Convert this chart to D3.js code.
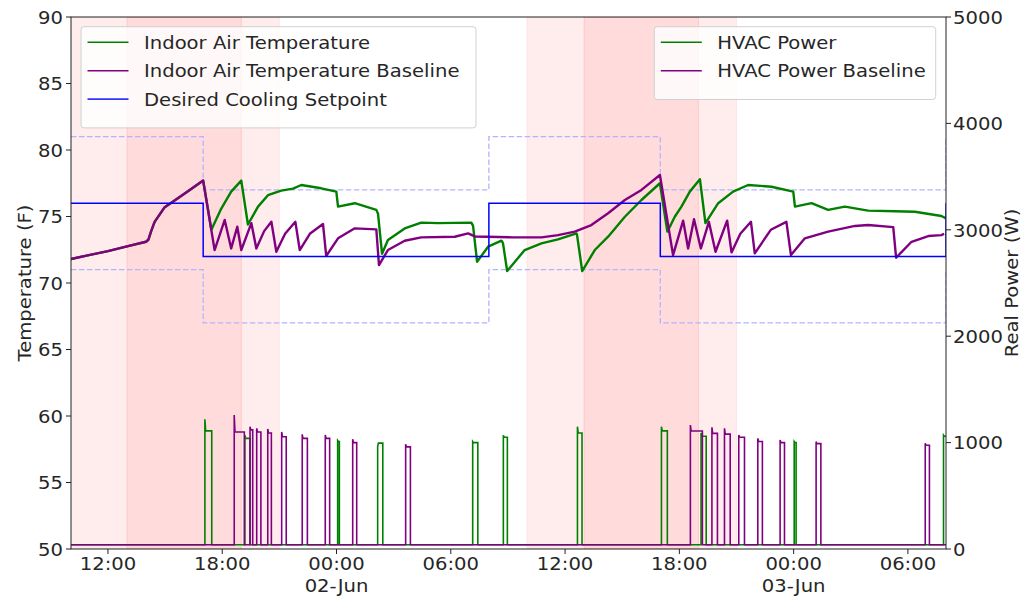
<!DOCTYPE html>
<html><head><meta charset="utf-8">
<script src="https://cdn.jsdelivr.net/npm/d3@7"></script>
<style>
body{margin:0;background:#fff}
text{font-family:"DejaVu Sans",sans-serif;fill:#262626}
</style>
</head><body><svg id="c" width="1022" height="596"></svg>
<script>
// time in hours since 2019-06-01 00:00
const startHour = 10.06, endHour = 56.0;
const xTickHours = [12, 18, 24, 30, 36, 42, 48, 54];
const xTickLabels = ["12:00","18:00","00:00","06:00","12:00","18:00","00:00","06:00"];
const xDayLabels = {24:"02-Jun", 48:"03-Jun"};
const tempTicks = [50,55,60,65,70,75,80,85,90];
const powerTicks = [0,1000,2000,3000,4000,5000];

const lightSpans = [[10,21],[34,45]];
const darkSpans = [[13,19],[37,43]];

const setpointHours = [10.06, 17, 32, 41, 56];
const setpointVals = [76, 72, 76, 72, 76];
const upperVals = [81, 77, 81, 77, 81];
const lowerVals = [71, 67, 71, 67, 71];

const indoorTemp = [
[10.06,71.8],[11.0,72.1],[12.0,72.4],[13.0,72.75],[14.0,73.1],[14.12,73.25],[14.27,73.9],[14.45,74.6],[14.98,75.7],[15.5,76.2],[16.2,76.9],[17.0,77.7],
[17.43,74.0],[17.95,75.6],[18.47,76.87],[19.0,77.7],
[19.35,74.4],[19.88,75.74],[20.4,76.6],[21.1,76.95],[21.72,77.1],[22.15,77.37],[23.2,77.12],[23.99,76.87],
[24.08,75.74],[24.96,76.0],[26.09,75.5],
[26.18,75.2],[26.39,72.2],[26.7,73.23],[27.58,74.1],[28.45,74.54],[29.33,74.5],[31.08,74.54],
[31.17,74.3],[31.38,71.6],[31.96,72.73],[32.66,73.18],
[32.74,73.0],[32.96,70.9],[33.88,72.48],[34.76,72.98],[35.63,73.28],[36.6,73.73],
[36.63,73.6],[36.9,70.9],[37.56,72.48],[38.26,73.48],[39.14,74.98],[40.01,76.24],[40.98,77.5],
[41.37,73.86],[41.76,74.98],[42.11,75.74],[42.55,76.87],[43.08,77.8],
[43.37,74.5],[44.04,76.0],[44.82,76.87],[45.61,77.37],[46.84,77.24],[47.98,76.87],
[48.07,75.74],[48.94,76.0],[49.81,75.5],[50.69,75.74],[51.91,75.44],[53.32,75.4],[54.37,75.36],[55.76,75.04],[56.0,74.86]
];
const baselineTemp = [
[10.06,71.8],[11.0,72.1],[12.0,72.4],[13.0,72.75],[14.0,73.1],[14.12,73.25],[14.27,73.9],[14.45,74.6],[14.98,75.7],[15.5,76.2],[16.2,76.9],[17.0,77.7],
[17.6,72.48],[18.13,74.74],[18.47,72.6],[18.79,74.23],[19.0,72.48],[19.53,74.5],[19.79,72.6],[20.2,73.9],[20.58,74.6],[20.84,72.35],[21.3,73.7],[21.84,74.6],[22.07,72.48],[22.6,73.7],[23.29,74.44],[23.46,72.03],
[24.08,73.36],[24.96,74.11],[26.09,74.03],[26.23,71.35],[26.7,72.48],[27.58,73.18],[28.45,73.43],[30.21,73.48],[30.91,73.73],[31.26,73.5],[33.27,73.43],[34.76,73.43],[35.63,73.6],[36.51,73.86],[37.38,74.36],[38.26,75.24],[39.14,76.24],[40.01,77.0],[40.98,78.12],
[41.67,72.1],[42.2,74.69],[42.46,72.6],[42.77,74.79],[43.13,72.6],[43.55,74.6],[43.9,72.35],[44.51,74.69],[44.74,72.3],[45.2,73.7],[45.76,74.6],[45.96,72.23],[46.8,74.0],[47.62,74.6],[47.86,72.1],
[48.59,73.36],[49.81,73.86],[51.22,74.29],[51.91,74.36],[53.23,74.2],[53.38,71.9],[54.19,73.1],[55.07,73.53],[55.76,73.6],[55.9,73.7]
];

// power pulses: [startHour, endHour, peakW, plateauW]
const powerIdle = 40;
const hvacPulses = [[17.09,17.45,1220,1110],[19.19,19.46,1070,1040],[24.06,24.15,1020,1010],[26.16,26.43,965,995],[31.15,31.42,1010,1000],[32.76,32.97,1070,1050],[36.65,36.89,1150,1090],[41.06,41.37,1150,1110],[43.14,43.41,1090,1060],[48.03,48.13,1010,1000],[55.87,56.0,1070,1060]];
const baselinePulses = [[18.63,19.16,1260,1100],[19.46,19.60,1150,1120],[19.81,20.03,1134,1100],[20.39,20.58,1128,1090],[21.12,21.36,1100,1055],[22.2,22.47,1078,1040],[23.41,23.64,1072,1040],[24.85,25.06,1031,1000],[27.63,27.88,984,960],[42.58,43.21,1165,1109],[43.71,44.0,1144,1087],[44.37,44.67,1134,1080],[45.12,45.42,1071,1050],[46.12,46.36,1040,1010],[47.29,47.52,1024,1000],[49.18,49.43,1009,990],[54.91,55.13,993,975]];

const W = 1022, H = 596;
const L = 71, R = 946, T = 17, B = 549;
const base = new Date(2019,5,1,0,0,0);
const toDate = h => new Date(base.getTime() + h*3600e3);

const x = d3.scaleTime().domain([toDate(startHour), toDate(endHour)]).range([L, R]);
const yT = d3.scaleLinear().domain([50,90]).range([B, T]);
const yP = d3.scaleLinear().domain([0,5000]).range([B, T]);

const svg = d3.select("#c");
svg.append("defs").append("clipPath").attr("id","clip")
  .append("rect").attr("x",L).attr("y",T).attr("width",R-L).attr("height",B-T);
const plot = svg.append("g").attr("clip-path","url(#clip)");

lightSpans.forEach(s => plot.append("rect")
  .attr("x", x(toDate(s[0]))).attr("y", T).attr("width", x(toDate(s[1]))-x(toDate(s[0]))).attr("height", B-T)
  .attr("fill","rgba(255,0,0,0.07)").attr("stroke","rgba(255,0,0,0.07)"));
darkSpans.forEach(s => plot.append("rect")
  .attr("x", x(toDate(s[0]))).attr("y", T).attr("width", x(toDate(s[1]))-x(toDate(s[0]))).attr("height", B-T)
  .attr("fill","rgba(255,0,0,0.075)").attr("stroke","rgba(255,0,0,0.12)"));

const lineT = d3.line().x(d => x(toDate(d[0]))).y(d => yT(d[1]));
const stepT = d3.line().x(d => x(toDate(d[0]))).y(d => yT(d[1])).curve(d3.curveStepAfter);

const zip = vals => setpointHours.map((h,i) => [h, vals[i]]);
[upperVals, lowerVals].forEach(v => plot.append("path").datum(zip(v))
  .attr("d", stepT).attr("fill","none").attr("stroke","#b3b3ff").attr("stroke-width",1.3)
  .attr("stroke-dasharray","5.5,2.5"));

plot.append("path").datum(indoorTemp).attr("d", lineT).attr("fill","none")
  .attr("stroke","#008000").attr("stroke-width",2.4).attr("stroke-linejoin","round");
plot.append("path").datum(baselineTemp).attr("d", lineT).attr("fill","none")
  .attr("stroke","#800080").attr("stroke-width",2.4).attr("stroke-linejoin","round");
plot.append("path").datum(zip(setpointVals)).attr("d", stepT).attr("fill","none")
  .attr("stroke","#0000ff").attr("stroke-width",1.5);

function pulsePoints(pulses) {
  const pts = [[startHour, powerIdle]];
  pulses.forEach(p => {
    pts.push([p[0], powerIdle], [p[0], p[2]], [p[0]+0.04, p[3]], [p[1], p[3]]);
    if (p[1] < endHour) pts.push([p[1], powerIdle]);
  });
  if (pts[pts.length-1][0] < endHour) pts.push([endHour, powerIdle]);
  return pts;
}
const lineP = d3.line().x(d => x(toDate(d[0]))).y(d => yP(d[1]));
plot.append("path").datum(pulsePoints(hvacPulses)).attr("d", lineP).attr("fill","none")
  .attr("stroke","#008000").attr("stroke-width",1.6);
plot.append("path").datum(pulsePoints(baselinePulses)).attr("d", lineP).attr("fill","none")
  .attr("stroke","#800080").attr("stroke-width",1.6);

// frame
svg.append("rect").attr("x",L).attr("y",T).attr("width",R-L).attr("height",B-T)
  .attr("fill","none").attr("stroke","#222").attr("stroke-width",1);

const FS = 18.5, SX = 1.06;
function txt(g, xx, yy, s, anchor, rot) {
  return g.append("text")
    .attr("transform", `translate(${xx},${yy})` + (rot ? ` rotate(${rot})` : "") + ` scale(${SX},1)`)
    .attr("text-anchor", anchor).attr("font-size", FS).text(s);
}
// axes
tempTicks.forEach(v => {
  svg.append("line").attr("x1",L-5).attr("x2",L).attr("y1",yT(v)).attr("y2",yT(v)).attr("stroke","#222");
  txt(svg, L-8, yT(v)+6.8, v, "end");
});
powerTicks.forEach(v => {
  svg.append("line").attr("x1",R).attr("x2",R+5).attr("y1",yP(v)).attr("y2",yP(v)).attr("stroke","#222");
  txt(svg, R+7, yP(v)+6.8, v, "start");
});
xTickHours.forEach((h,i) => {
  const xx = x(toDate(h));
  svg.append("line").attr("x1",xx).attr("x2",xx).attr("y1",B).attr("y2",B+5).attr("stroke","#222");
  txt(svg, xx, 570, xTickLabels[i], "middle");
  if (xDayLabels[h]) txt(svg, xx, 592, xDayLabels[h], "middle");
});
txt(svg, 31, (T+B)/2, "Temperature (F)", "middle", -90);
txt(svg, 1018, (T+B)/2, "Real Power (W)", "middle", -90);

// legends
function legend(x0, y0, w, items) {
  const g = svg.append("g");
  g.append("rect").attr("x",x0).attr("y",y0).attr("width",w).attr("height",16+items.length*28.4)
    .attr("rx",3).attr("fill","rgba(255,255,255,0.8)").attr("stroke","#d0d0d0");
  items.forEach((it,i) => {
    const yy = y0 + 15.6 + i*28.4;
    g.append("line").attr("x1",x0+6.5).attr("x2",x0+47.5).attr("y1",yy).attr("y2",yy)
      .attr("stroke",it[1]).attr("stroke-width",1.6);
    txt(g, x0+63, yy+6.6, it[0], "start");
  });
}
legend(81, 26.7, 395, [["Indoor Air Temperature","#008000"],["Indoor Air Temperature Baseline","#800080"],["Desired Cooling Setpoint","#3333ff"]]);
legend(654.3, 26.7, 281.4, [["HVAC Power","#008000"],["HVAC Power Baseline","#800080"]]);
</script>
</body></html>
